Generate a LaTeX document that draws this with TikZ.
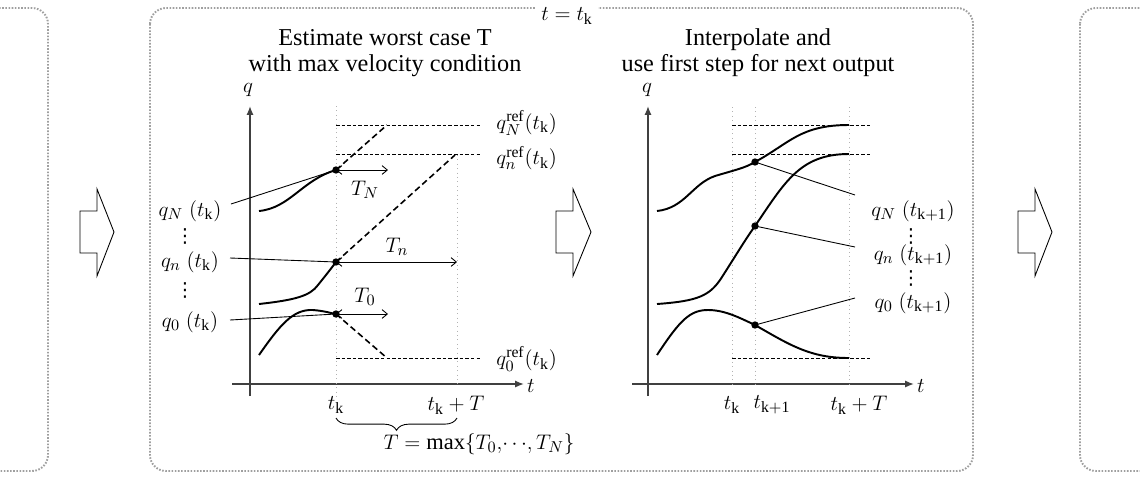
\documentclass[tikz,border=0pt]{standalone}
\usepackage{fontspec}
\setmainfont{Liberation Serif}
\newfontfamily\dejavu{DejaVu Sans}
\usetikzlibrary{arrows.meta,decorations.pathreplacing}
\tikzset{
  panel/.style={draw=gray!75, line width=1.1pt, dash pattern=on 0.9pt off 0.9pt, rounded corners=0.32cm},
  blockarrow/.style={draw=black, line width=0.5pt, fill=white},
  axis/.style={draw=black!75, line width=0.9pt, -{Latex[length=5pt,width=4pt]}},
  guide/.style={draw=gray!60, line width=0.5pt, dotted},
  refline/.style={draw=black, line width=0.5pt, dash pattern=on 2pt off 1.2pt},
  velline/.style={draw=black, line width=0.9pt, dash pattern=on 3.5pt off 2pt},
  traj/.style={draw=black, line width=1.1pt},
  leader/.style={draw=black, line width=0.5pt},
  span/.style={draw=black, line width=0.5pt, {Straight Barb[length=3pt,width=5pt]}-{Straight Barb[length=3pt,width=5pt]}},
  dotpt/.style={circle, fill=black, inner sep=0pt, minimum size=4.2pt},
  vdotsnode/.style={inner sep=0pt, font=\dejavu\fontsize{11}{11}\selectfont},
  qlabel/.style={inner sep=0pt},
  titletext/.style={align=center, font=\fontsize{13.8}{14.8}\selectfont},
}
\begin{document}
\begin{tikzpicture}[x=0.02cm,y=-0.02cm,font=\fontsize{12.8}{14.7}\selectfont]
\useasboundingbox (0,0) rectangle (1140,481);
\clip (0,0) rectangle (1140,481);

% panels
\draw[panel] (-40,8) rectangle (48,471);
\draw[panel] (150,8) rectangle (973,471);
\draw[panel] (1080,8) rectangle (1220,471);
\node[fill=white, inner sep=3pt] (tlabel) at (567,16) {$t=t_{\mathrm{k}}$};

% block arrows
\draw[blockarrow] (80,211) -- (97,211) -- (97,189) -- (114,232) -- (97,276) -- (97,253) -- (80,253) -- cycle;
\draw[blockarrow] (556,211) -- (573,211) -- (573,189) -- (591,232) -- (573,276) -- (573,253) -- (556,253) -- cycle;
\draw[blockarrow] (1018,211) -- (1035,211) -- (1035,189) -- (1052,232) -- (1035,276) -- (1035,253) -- (1018,253) -- cycle;

% ================= left plot =================
\node[titletext] (title1) at (385,53) {Estimate worst case T\\with max velocity condition};
\coordinate (ya0) at (250,396);
\coordinate (ya1) at (250,106);
\coordinate (xa0) at (232,384);
\coordinate (xa1) at (524,384);
\draw[axis] (ya0) -- (ya1);
\draw[axis] (xa0) -- (xa1);
\node (qlab1) at (248,90) {$q$};
\node[anchor=west, inner sep=1pt] (tlab1) at (525,386) {$t$};

\coordinate (g1a) at (336,106);
\coordinate (g1b) at (336,396);
\coordinate (g2a) at (457,155);
\coordinate (g2b) at (457,384);
\draw[guide] (g1a) -- (g1b);
\draw[guide] (g2a) -- (g2b);

\coordinate (rN0) at (336,125); \coordinate (rN1) at (482,125);
\coordinate (rn0) at (336,154); \coordinate (rn1) at (482,154);
\coordinate (r00) at (336,358); \coordinate (r01) at (482,358);
\draw[refline] (rN0) -- (rN1);
\draw[refline] (rn0) -- (rn1);
\draw[refline] (r00) -- (r01);
\node[anchor=west, inner sep=0pt] (refN) at (496,123) {$q_N^{\mathrm{ref}}(t_{\mathrm{k}})$};
\node[anchor=west, inner sep=0pt] (refn) at (496,158) {$q_n^{\mathrm{ref}}(t_{\mathrm{k}})$};
\node[anchor=west, inner sep=0pt] (ref0) at (496,359) {$q_0^{\mathrm{ref}}(t_{\mathrm{k}})$};

% trajectories
\draw[traj] (259,211) .. controls (290,208) and (302,180) .. (336,170);
\draw[traj] (259,304) .. controls (295,300) and (310,296) .. (318,285) .. controls (326,275) and (330,270) .. (336,262);
\draw[traj] (259,355) .. controls (280,325) and (293,309) .. (313,310) .. controls (325,311) and (330,313) .. (336,314);

\node[dotpt] (dN) at (336,170) {};
\node[dotpt] (dn) at (336,262) {};
\node[dotpt] (d0) at (336,314) {};

\coordinate (vN) at (387,125);
\coordinate (vn) at (455,155);
\coordinate (v0) at (387,358);
\draw[velline] (dN.center) -- (vN);
\draw[velline] (dn.center) -- (vn);
\draw[velline] (d0.center) -- (v0);

\coordinate (aN) at (388,170);
\coordinate (an) at (457,262);
\coordinate (a0) at (388,314);
\draw[span] (dN.center) -- (aN);
\draw[span] (dn.center) -- (an);
\draw[span] (d0.center) -- (a0);
\node (TN) at (365,190) {$T_N$};
\node (Tn) at (397,247) {$T_n$};
\node (T0) at (365,297) {$T_0$};

\node[qlabel] (lqN) at (190,211) {$q_N\;(t_{\mathrm{k}})$};
\node[vdotsnode] (ldots1) at (185,236) {⋮};
\node[qlabel] (lqn) at (190,262) {$q_n\;(t_{\mathrm{k}})$};
\node[vdotsnode] (ldots2) at (185,290) {⋮};
\node[qlabel] (lq0) at (190,322) {$q_0\;(t_{\mathrm{k}})$};
\coordinate (lN) at (231,204);
\coordinate (ln) at (230,258);
\coordinate (l0) at (230,320);
\draw[leader] (lN) -- (dN.center);
\draw[leader] (ln) -- (dn.center);
\draw[leader] (l0) -- (d0.center);

\node (tk1) at (336,405) {$t_{\mathrm{k}}$};
\node (tkT1) at (456,405) {$t_{\mathrm{k}}+T$};
\coordinate (b0) at (336,418);
\coordinate (b1) at (457,418);
\draw[line width=0.5pt, decorate, decoration={brace, amplitude=7pt, mirror}] (b0) -- (b1);
\node (Tmax) at (479,444) {$T=\max\{T_0,\!\cdots\!,T_N\}$};

% ================= right plot =================
\node[titletext] (title2) at (758,53) {Interpolate and\\use first step for next output};
\coordinate (yb0) at (648,396);
\coordinate (yb1) at (648,106);
\coordinate (xb0) at (632,384);
\coordinate (xb1) at (914,384);
\draw[axis] (yb0) -- (yb1);
\draw[axis] (xb0) -- (xb1);
\node (qlab2) at (647,90) {$q$};
\node[anchor=west, inner sep=1pt] (tlab2) at (915,386) {$t$};

\coordinate (h1a) at (732,107); \coordinate (h1b) at (732,384);
\coordinate (h2a) at (755,107); \coordinate (h2b) at (755,384);
\coordinate (h3a) at (849,107); \coordinate (h3b) at (849,384);
\draw[guide] (h1a) -- (h1b);
\draw[guide] (h2a) -- (h2b);
\draw[guide] (h3a) -- (h3b);

\coordinate (sN0) at (732,125); \coordinate (sN1) at (872,125);
\coordinate (sn0) at (732,154); \coordinate (sn1) at (872,154);
\coordinate (s00) at (732,358); \coordinate (s01) at (872,358);
\draw[refline] (sN0) -- (sN1);
\draw[refline] (sn0) -- (sn1);
\draw[refline] (s00) -- (s01);

\draw[traj] (657,211) .. controls (685,208) and (692,184) .. (715,176) .. controls (735,170) and (745,168) .. (755,162) .. controls (790,143) and (800,125) .. (849,125);
\draw[traj] (657,304) .. controls (698,301) and (710,296) .. (722,277) .. controls (738,252) and (745,240) .. (755,226) .. controls (785,182) and (800,154) .. (849,154);
\draw[traj] (657,355) .. controls (680,320) and (690,310) .. (708,310) .. controls (725,310) and (740,318) .. (755,325) .. controls (790,345) and (810,358) .. (849,358);

\node[dotpt] (eN) at (755,162) {};
\node[dotpt] (en) at (755,226) {};
\node[dotpt] (e0) at (755,325) {};

\node[qlabel] (rqN) at (913,211) {$q_N\;(t_{\mathrm{k+1}})$};
\node[vdotsnode] (rdots1) at (911,236) {⋮};
\node[qlabel] (rqn) at (913,255) {$q_n\;(t_{\mathrm{k+1}})$};
\node[vdotsnode] (rdots2) at (911,278) {⋮};
\node[qlabel] (rq0) at (913,303) {$q_0\;(t_{\mathrm{k+1}})$};
\coordinate (mN) at (855,195);
\coordinate (mn) at (855,247);
\coordinate (m0) at (855,298);
\draw[leader] (eN.center) -- (mN);
\draw[leader] (en.center) -- (mn);
\draw[leader] (e0.center) -- (m0);

\node (tk2) at (732,405) {$t_{\mathrm{k}}$};
\node (tk12) at (772,405) {$t_{\mathrm{k+1}}$};
\node (tkT2) at (859,405) {$t_{\mathrm{k}}+T$};
\end{tikzpicture}
\end{document}
